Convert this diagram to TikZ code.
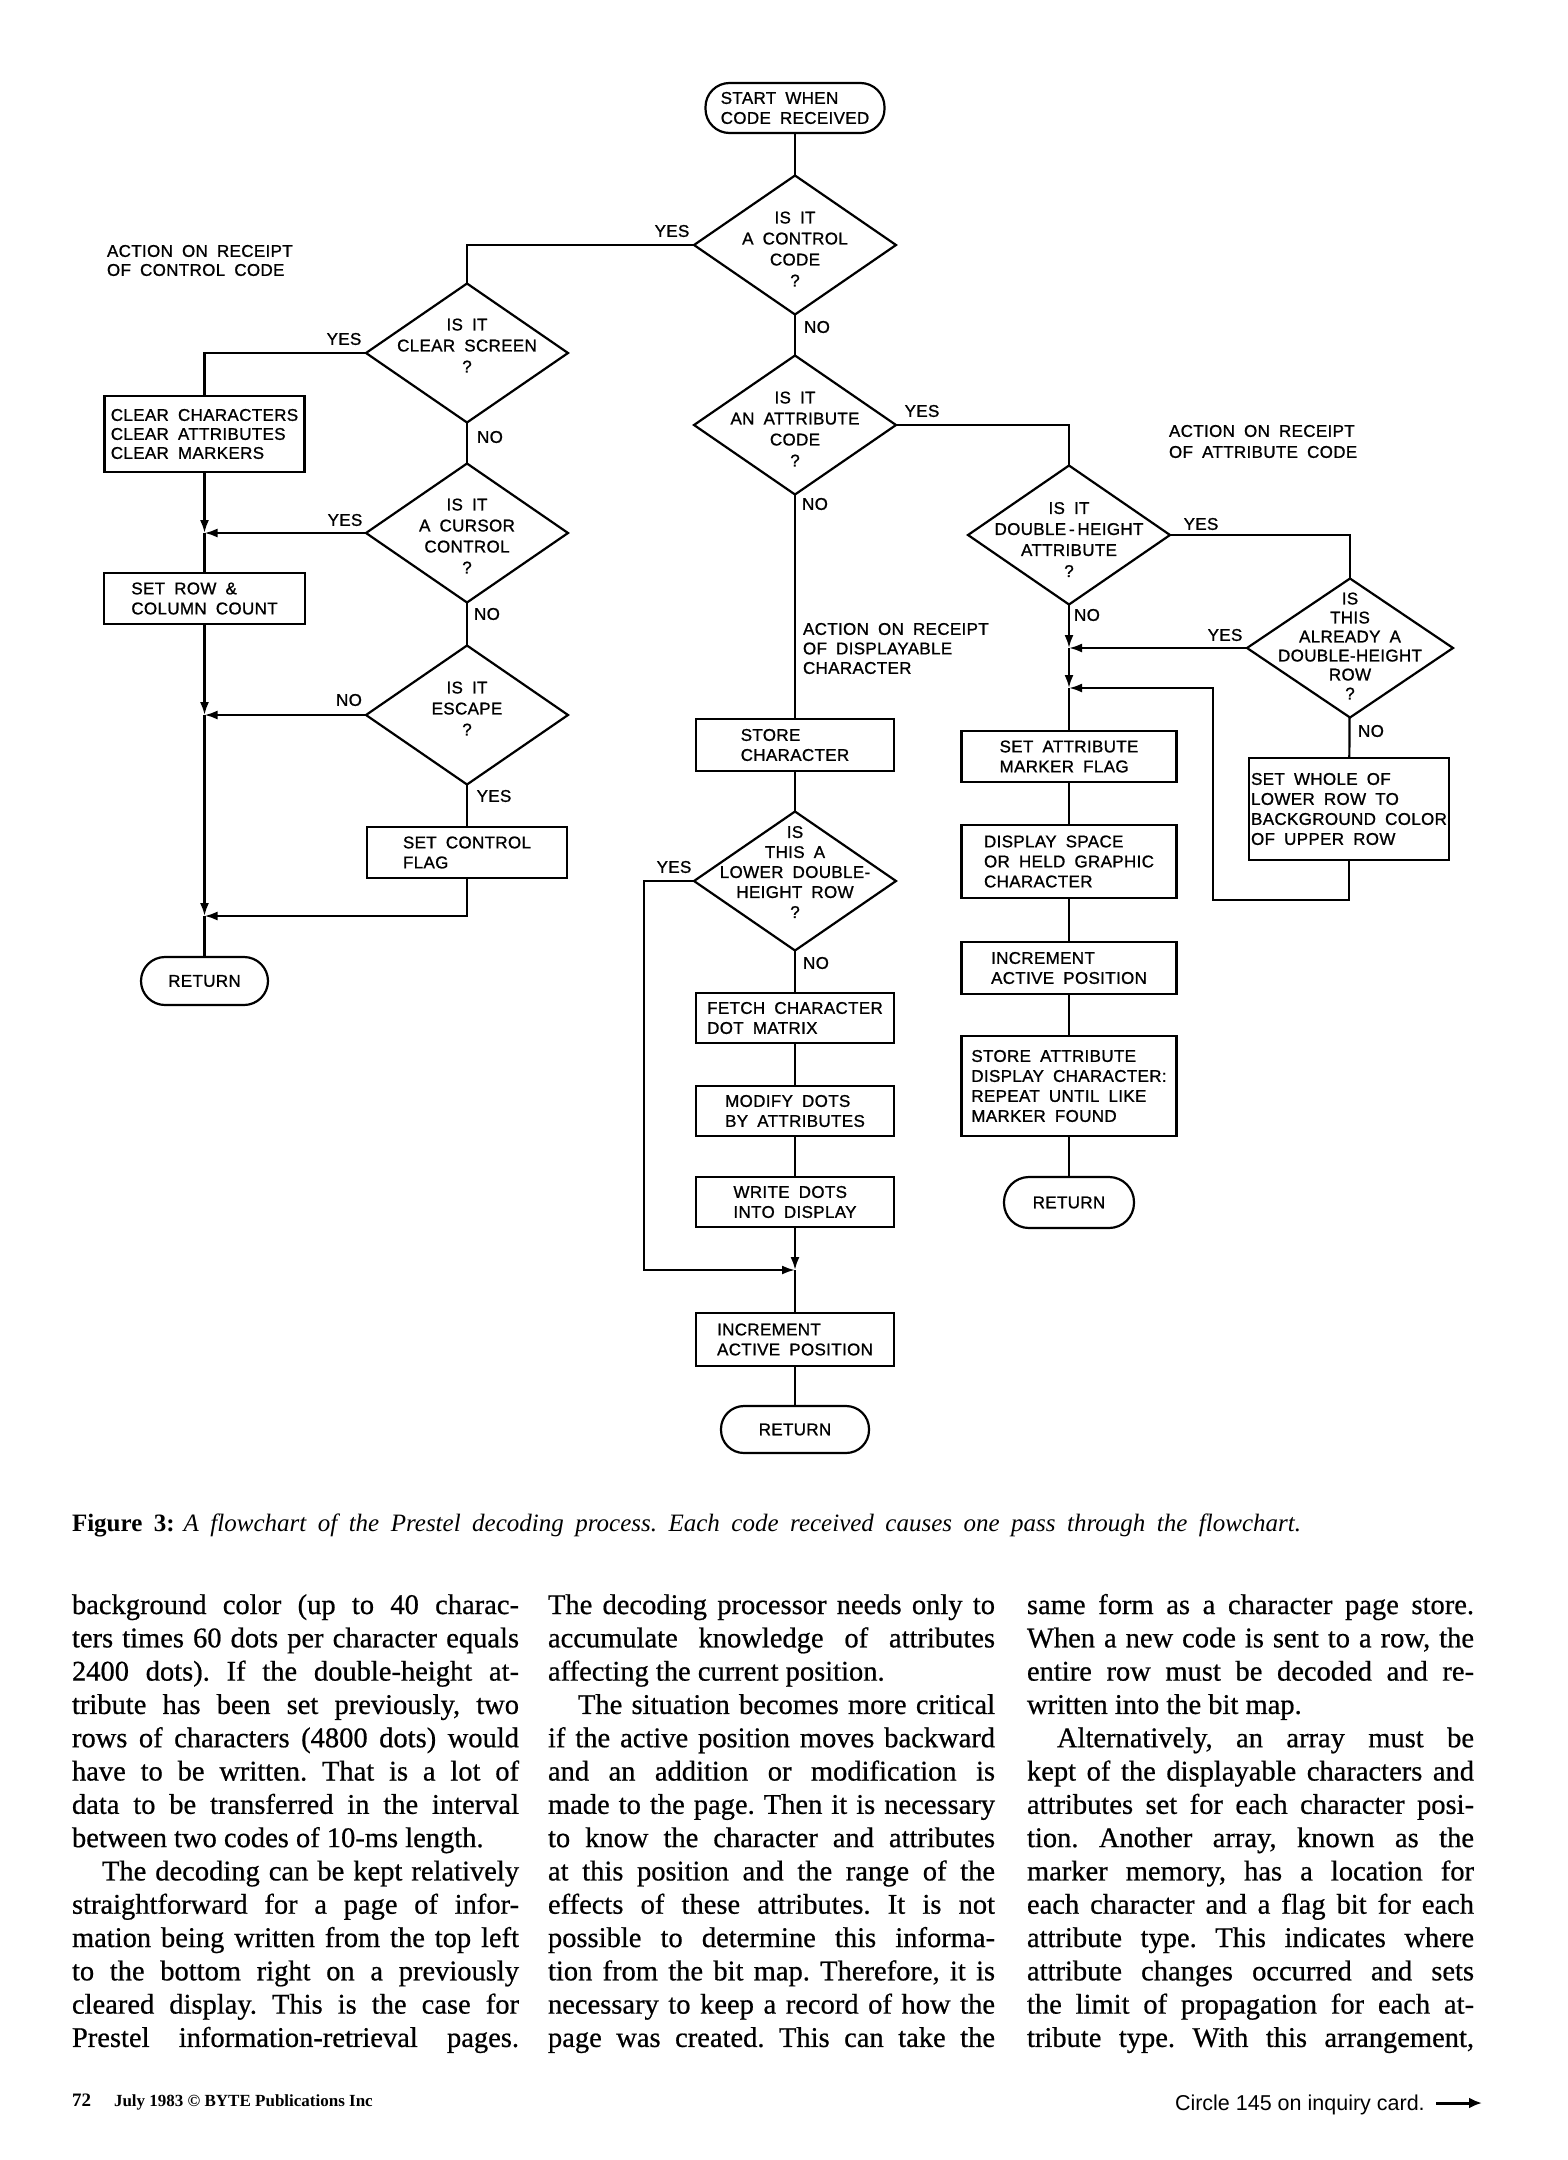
\documentclass[tikz,border=0pt]{standalone}
\usepackage{fontspec}
\setmainfont{Liberation Serif}
\newfontfamily\flowfont[LetterSpace=2,WordSpace=1.8,FakeBold=1]{Liberation Sans}
\newfontfamily\bodyfont[FakeBold=0.6]{Liberation Serif}
\newfontfamily\notefont{Liberation Sans}
\usetikzlibrary{shapes.geometric,arrows.meta}
\newcommand{\JL}[1]{\hbox to \hsize{#1}}
\newcommand{\SL}[1]{\hbox to \hsize{#1\hfil}}
\newcommand{\IND}{\kern30pt}
\newcommand{\Col}[1]{\vtop{\hsize=447pt\frenchspacing #1}}
\frenchspacing
\begin{document}
\begin{tikzpicture}[x=1pt,y=-1pt,
  every node/.style={inner sep=0pt,outer sep=0pt},
  flow/.style={font=\flowfont\fontsize{17}{20}\selectfont},
  dia/.style={draw, line width=2.2pt, shape=diamond, minimum width=202pt, minimum height=139pt},
  dtext/.style={flow, align=center, font=\flowfont\fontsize{17}{21}\selectfont},
  box/.style={draw, line width=2.2pt, rectangle, flow, align=left},
  term/.style={draw, line width=2.2pt, rectangle, rounded corners=24pt, flow, align=left},
  lab/.style={flow},
  ann/.style={flow, align=left, anchor=west},
  line/.style={line width=2.2pt},
  arr/.style={line width=2.2pt, -{Latex[length=13pt,width=9pt]}},
  body/.style={font=\bodyfont\fontsize{28.5}{33.3}\selectfont, anchor=base west}
]
\path[use as bounding box, fill=white] (0,0) rectangle (1568,2160);

% ---------- main column ----------
\node[term, minimum width=179pt, minimum height=50pt] (start) at (795,108) {START WHEN\\CODE RECEIVED};
\node[dia] (dctrl) at (795,245) {};
\node[dtext] (tctrl) at (795,249) {IS IT\\A CONTROL\\CODE\\?};
\node[dia] (dattr) at (795,425) {};
\node[dtext] (tattr) at (795,429) {IS IT\\AN ATTRIBUTE\\CODE\\?};
\node[box, minimum width=198pt, minimum height=52pt] (bstore) at (795,745) {STORE\\CHARACTER};
\node[dia] (dlow) at (795,881) {};
\node[dtext, font=\flowfont\fontsize{17}{20}\selectfont] (tlow) at (795,872) {IS\\THIS A\\LOWER DOUBLE-\\HEIGHT ROW\\?};
\node[box, minimum width=198pt, minimum height=50pt] (bfetch) at (795,1018) {FETCH CHARACTER\\DOT MATRIX};
\node[box, minimum width=198pt, minimum height=50pt] (bmod) at (795,1111) {MODIFY DOTS\\BY ATTRIBUTES};
\node[box, minimum width=198pt, minimum height=50pt] (bwrite) at (795,1202) {WRITE DOTS\\INTO DISPLAY};
\coordinate (j5) at (795,1270);
\coordinate (lowc) at (644,1270);
\node[box, minimum width=198pt, minimum height=53pt] (binc) at (795,1339.5) {INCREMENT\\ACTIVE POSITION};
\node[term, minimum width=148pt, minimum height=47pt, rounded corners=23pt] (retm) at (795,1429.5) {RETURN};

% ---------- control code column ----------
\node[dia] (dclr) at (467,353) {};
\node[dtext] (tclr) at (467,345.5) {IS IT\\CLEAR SCREEN\\?};
\node[dia] (dcur) at (467,533) {};
\node[dtext] (tcur) at (467,536) {IS IT\\A CURSOR\\CONTROL\\?};
\node[dia] (desc) at (467,715) {};
\node[dtext] (tesc) at (467,708.5) {IS IT\\ESCAPE\\?};
\node[box, minimum width=200pt, minimum height=76pt, font=\flowfont\fontsize{17}{19}\selectfont] (bclr) at (204.5,434) {CLEAR CHARACTERS\\CLEAR ATTRIBUTES\\CLEAR MARKERS};
\coordinate (j1) at (204.5,533);
\node[box, minimum width=201pt, minimum height=51pt] (brow) at (204.5,598.5) {SET ROW \&\\COLUMN COUNT};
\coordinate (j2) at (204.5,715);
\node[box, minimum width=200pt, minimum height=51pt] (bflag) at (467,852.5) {SET CONTROL\\FLAG};
\coordinate (j3) at (204.5,916);
\node[term, minimum width=127pt, minimum height=48pt] (ret1) at (204.5,981) {RETURN};

% ---------- attribute column ----------
\node[dia] (ddh) at (1069,535) {};
\node[dtext] (tdh) at (1069,539.5) {IS IT\\DOUBLE\,-\,HEIGHT\\ATTRIBUTE\\?};
\node[dia, minimum width=206pt] (dalr) at (1350,648) {};
\node[dtext, font=\flowfont\fontsize{17}{19}\selectfont] (talr) at (1350,646) {IS\\THIS\\ALREADY A\\DOUBLE-HEIGHT\\ROW\\?};
\coordinate (j6) at (1069,648);
\coordinate (j7) at (1069,688);
\node[box, minimum width=200pt, minimum height=102pt] (bwhole) at (1349,809) {SET WHOLE OF\\LOWER ROW TO\\BACKGROUND COLOR\\OF UPPER ROW};
\coordinate (lpb) at (1213,900);
\node[box, minimum width=215pt, minimum height=51pt] (bsetattr) at (1069,756.5) {SET ATTRIBUTE\\MARKER FLAG};
\node[box, minimum width=215pt, minimum height=73pt] (bdisp) at (1069,861.5) {DISPLAY SPACE\\OR HELD GRAPHIC\\CHARACTER};
\node[box, minimum width=215pt, minimum height=52pt] (binc2) at (1069,968) {INCREMENT\\ACTIVE POSITION};
\node[box, minimum width=215pt, minimum height=100pt] (bstoreattr) at (1069,1086) {STORE ATTRIBUTE\\DISPLAY CHARACTER:\\REPEAT UNTIL LIKE\\MARKER FOUND};
\node[term, minimum width=130pt, minimum height=51pt, rounded corners=25pt] (ret2) at (1069,1202.5) {RETURN};

% ---------- annotations ----------
\node[ann, font=\flowfont\fontsize{17}{19}\selectfont] (ann1) at (107,260.5) {ACTION ON RECEIPT\\OF CONTROL CODE};
\node[ann, font=\flowfont\fontsize{17}{19.5}\selectfont] (ann2) at (803,648.5) {ACTION ON RECEIPT\\OF DISPLAYABLE\\CHARACTER};
\node[ann, font=\flowfont\fontsize{17}{21}\selectfont] (ann3) at (1169,441.5) {ACTION ON RECEIPT\\OF ATTRIBUTE CODE};

% ---------- yes / no labels ----------
\node[lab] (y1) at (672,231) {YES};
\node[lab] (n1) at (817,327) {NO};
\node[lab] (y2) at (344,339) {YES};
\node[lab] (n2) at (490,437) {NO};
\node[lab] (y3) at (345,520) {YES};
\node[lab] (n3) at (487,614) {NO};
\node[lab] (n4) at (349,700) {NO};
\node[lab] (y4) at (494,796) {YES};
\node[lab] (y5) at (922,411) {YES};
\node[lab] (n5) at (815,504) {NO};
\node[lab] (y6) at (674,867) {YES};
\node[lab] (n6) at (816,963) {NO};
\node[lab] (y7) at (1201,524) {YES};
\node[lab] (n7) at (1087,615) {NO};
\node[lab] (y8) at (1225,635) {YES};
\node[lab] (n8) at (1371,731) {NO};

% ---------- connectors: main ----------
\draw[line] (start) -- (dctrl);
\draw[line] (dctrl) -- (dattr);
\draw[line] (dattr) -- (bstore);
\draw[line] (bstore) -- (dlow);
\draw[line] (dlow) -- (bfetch);
\draw[line] (bfetch) -- (bmod);
\draw[line] (bmod) -- (bwrite);
\draw[arr] (bwrite) -- (j5);
\draw[arr] (dlow.west) -| (lowc) -- (j5);
\draw[line] (j5) -- (binc);
\draw[line] (binc) -- (retm);

% ---------- connectors: control ----------
\draw[line] (dctrl.west) -| (dclr.north);
\draw[line] (dclr.west) -| (bclr.north);
\draw[line] (dclr) -- (dcur);
\draw[arr] (bclr) -- (j1);
\draw[arr] (dcur.west) -- (j1);
\draw[line] (j1) -- (brow);
\draw[line] (dcur) -- (desc);
\draw[arr] (brow) -- (j2);
\draw[arr] (desc.west) -- (j2);
\draw[line] (desc) -- (bflag);
\draw[arr] (j2) -- (j3);
\draw[arr] (bflag.south) |- (j3);
\draw[line] (j3) -- (ret1);

% ---------- connectors: attribute ----------
\draw[line] (dattr.east) -| (ddh.north);
\draw[line] (ddh.east) -| (dalr.north);
\draw[arr] (ddh) -- (j6);
\draw[arr] (dalr.west) -- (j6);
\draw[arr] (j6) -- (j7);
\draw[line] (j7) -- (bsetattr);
\draw[line] (dalr) -- (bwhole);
\draw[arr] (bwhole.south) |- (lpb) |- (j7);
\draw[line] (bsetattr) -- (bdisp);
\draw[line] (bdisp) -- (binc2);
\draw[line] (binc2) -- (bstoreattr);
\draw[line] (bstoreattr) -- (ret2);

% ---------- caption ----------
\node[anchor=base west, font=\fontsize{25}{30}\selectfont] (cap) at (72,1531) {\makebox[1229pt][s]{\textbf{Figure 3:}\hspace{9pt}\textit{A flowchart of the Prestel decoding process. Each code received causes one pass through the flowchart.}}};

% ---------- body text ----------
\node[body] (col1) at (72,1614) {\Col{%
\JL{background color (up to 40 charac-}%
\JL{ters times 60 dots per character equals}%
\JL{2400 dots). If the double-height at-}%
\JL{tribute has been set previously, two}%
\JL{rows of characters (4800 dots) would}%
\JL{have to be written. That is a lot of}%
\JL{data to be transferred in the interval}%
\SL{between two codes of 10-ms length.}%
\JL{\IND The decoding can be kept relatively}%
\JL{straightforward for a page of infor-}%
\JL{mation being written from the top left}%
\JL{to the bottom right on a previously}%
\JL{cleared display. This is the case for}%
\JL{Prestel information-retrieval pages.}}};
\node[body] (col2) at (548,1614) {\Col{%
\JL{The decoding processor needs only to}%
\JL{accumulate knowledge of attributes}%
\SL{affecting the current position.}%
\JL{\IND The situation becomes more critical}%
\JL{if the active position moves backward}%
\JL{and an addition or modification is}%
\JL{made to the page. Then it is necessary}%
\JL{to know the character and attributes}%
\JL{at this position and the range of the}%
\JL{effects of these attributes. It is not}%
\JL{possible to determine this informa-}%
\JL{tion from the bit map. Therefore, it is}%
\JL{necessary to keep a record of how the}%
\JL{page was created. This can take the}}};
\node[body] (col3) at (1027,1614) {\Col{%
\JL{same form as a character page store.}%
\JL{When a new code is sent to a row, the}%
\JL{entire row must be decoded and re-}%
\SL{written into the bit map.}%
\JL{\IND Alternatively, an array must be}%
\JL{kept of the displayable characters and}%
\JL{attributes set for each character posi-}%
\JL{tion. Another array, known as the}%
\JL{marker memory, has a location for}%
\JL{each character and a flag bit for each}%
\JL{attribute type. This indicates where}%
\JL{attribute changes occurred and sets}%
\JL{the limit of propagation for each at-}%
\JL{tribute type. With this arrangement,}}};

% ---------- footer ----------
\node[anchor=base west, font=\bfseries\fontsize{19}{22}\selectfont] (pg) at (72,2106) {72};
\node[anchor=base west, font=\bfseries\fontsize{17}{20}\selectfont] (pub) at (114,2106) {July 1983 © BYTE Publications Inc};
\node[anchor=base west, font=\notefont\fontsize{21.5}{24}\selectfont] (circ) at (1175,2110) {Circle 145 on inquiry card.};
\coordinate (ar1) at (1436,2103);
\coordinate (ar2) at (1482,2103);
\draw[line width=3pt, -{Latex[length=13pt,width=11pt]}] (ar1) -- (ar2);
\end{tikzpicture}
\end{document}
